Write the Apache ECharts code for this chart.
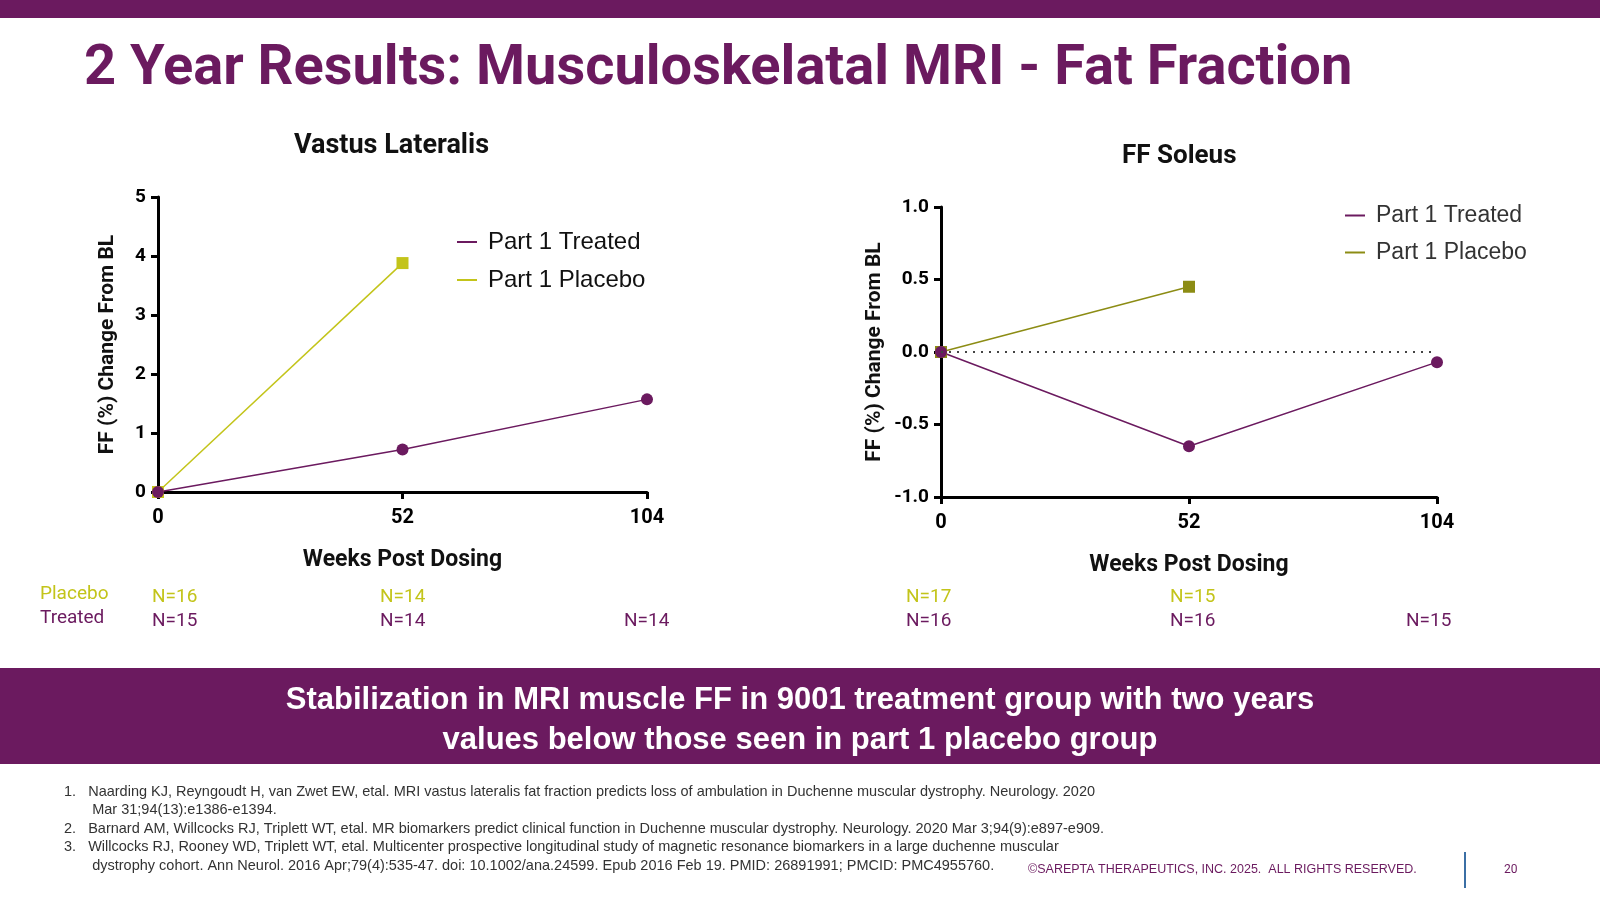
<!DOCTYPE html>
<html><head><meta charset="utf-8">
<script src="https://cdn.jsdelivr.net/npm/echarts@6/dist/echarts.min.js"></script>
<style>html,body{margin:0;padding:0;background:#fff}#c{width:1600px;height:900px}</style>
</head><body><div id="c"></div>
<script>
var weeks = [0, 52, 104];
var vlTreated = [[0, 0], [52, 0.72], [104, 1.57]];
var vlPlacebo = [[0, 0], [52, 3.88]];
var solTreated = [[0, 0], [52, -0.65], [104, -0.07]];
var solPlacebo = [[0, 0], [52, 0.45]];
var nPlaceboVL = ['N=16', 'N=14', ''];
var nTreatedVL = ['N=15', 'N=14', 'N=14'];
var nPlaceboSol = ['N=17', 'N=15', ''];
var nTreatedSol = ['N=16', 'N=16', 'N=15'];
var footnotes = [
  '1.   Naarding KJ, Reyngoudt H, van Zwet EW, etal. MRI vastus lateralis fat fraction predicts loss of ambulation in Duchenne muscular dystrophy. Neurology. 2020',
  '       Mar 31;94(13):e1386-e1394.',
  '2.   Barnard AM, Willcocks RJ, Triplett WT, etal. MR biomarkers predict clinical function in Duchenne muscular dystrophy. Neurology. 2020 Mar 3;94(9):e897-e909.',
  '3.   Willcocks RJ, Rooney WD, Triplett WT, etal. Multicenter prospective longitudinal study of magnetic resonance biomarkers in a large duchenne muscular',
  '       dystrophy cohort. Ann Neurol. 2016 Apr;79(4):535-47. doi: 10.1002/ana.24599. Epub 2016 Feb 19. PMID: 26891991; PMCID: PMC4955760.'
];

var purple = '#6b1a5f', lime = '#c3c41a', olive = '#8c8c14';
var chart = echarts.init(document.getElementById('c'));

function xAx(idx) {
  return {gridIndex: idx, type: 'value', min: 0, max: 104, interval: 52,
    name: 'Weeks Post Dosing', nameLocation: 'middle', nameGap: 57,
    nameTextStyle: {fontSize: 23, fontWeight: 'bold', color: '#111'},
    axisLine: {onZero: false, lineStyle: {color: '#000', width: 3}},
    axisTick: {show: true, length: 7, lineStyle: {width: 3, color: '#000'}},
    axisLabel: {fontSize: 20, fontWeight: 'bold', color: '#000', margin: 16},
    splitLine: {show: false}};
}
function yAx(idx, min, max, interval, gap, fmt) {
  return {gridIndex: idx, type: 'value', min: min, max: max, interval: interval,
    name: 'FF (%) Change From BL', nameLocation: 'middle', nameGap: gap,
    nameTextStyle: {fontSize: 21, fontWeight: 'bold', color: '#111'},
    axisLine: {show: true, onZero: false, lineStyle: {color: '#000', width: 3}},
    axisTick: {show: true, length: 7, lineStyle: {width: 3, color: '#000'}},
    axisLabel: {fontSize: 19, fontWeight: 'bold', color: '#000', margin: 12, formatter: fmt},
    splitLine: {show: false}};
}
function ser(name, idx, data, color, sym) {
  return {name: name, type: 'line', xAxisIndex: idx, yAxisIndex: idx, data: data,
    symbol: sym, symbolSize: 12, lineStyle: {color: color, width: 1.5},
    itemStyle: {color: color}};
}

var g = [];
g.push({type: 'rect', shape: {x: 0, y: 0, width: 1600, height: 18}, style: {fill: purple}});
g.push({type: 'text', left: 84, top: 42, style: {text: '2 Year Results: Musculoskelatal MRI - Fat Fraction',
  font: 'bold 56px "Liberation Sans Narrow", "Roboto", sans-serif', fill: purple}});
g.push({type: 'text', left: 294, top: 133, style: {text: 'Vastus Lateralis', font: 'bold 27px Roboto, sans-serif', fill: '#111'}});
g.push({type: 'text', left: 1122, top: 143, style: {text: 'FF Soleus', font: 'bold 26px Roboto, sans-serif', fill: '#111'}});
g.push({type: 'text', left: 40, top: 585, style: {text: 'Placebo', font: '19px Roboto, sans-serif', fill: lime}});
g.push({type: 'text', left: 40, top: 609, style: {text: 'Treated', font: '19px Roboto, sans-serif', fill: purple}});
var xsL = [152, 380, 624], xsR = [906, 1170, 1406];
for (var i = 0; i < 3; i++) {
  g.push({type: 'text', left: xsL[i], top: 588, style: {text: nPlaceboVL[i], font: '19px Roboto, sans-serif', fill: lime}});
  g.push({type: 'text', left: xsL[i], top: 612, style: {text: nTreatedVL[i], font: '19px Roboto, sans-serif', fill: purple}});
  g.push({type: 'text', left: xsR[i], top: 588, style: {text: nPlaceboSol[i], font: '19px Roboto, sans-serif', fill: lime}});
  g.push({type: 'text', left: xsR[i], top: 612, style: {text: nTreatedSol[i], font: '19px Roboto, sans-serif', fill: purple}});
}
g.push({type: 'rect', shape: {x: 0, y: 668, width: 1600, height: 96}, style: {fill: purple}});
g.push({type: 'text', x: 800, y: 680, style: {text: 'Stabilization in MRI muscle FF in 9001 treatment group with two years\nvalues below those seen in part 1 placebo group',
  font: 'bold 31px "Liberation Sans", Arial, sans-serif', fill: '#fff', align: 'center', lineHeight: 40}});
for (var j = 0; j < footnotes.length; j++) {
  g.push({type: 'text', left: 64, top: 784 + j * 18.5, style: {text: footnotes[j], font: '14.5px "Liberation Sans", Arial, sans-serif', fill: '#333'}});
}
g.push({type: 'text', left: 1028, top: 863, style: {text: '©SAREPTA THERAPEUTICS, INC. 2025.  ALL RIGHTS RESERVED.', font: '12.5px "Liberation Sans", Arial, sans-serif', fill: purple}});
g.push({type: 'rect', shape: {x: 1464, y: 852, width: 2, height: 36}, style: {fill: '#3b6fa5'}});
g.push({type: 'text', left: 1504, top: 864, style: {text: '20', font: '12px Roboto, sans-serif', fill: purple}});

chart.setOption({
  animation: false,
  textStyle: {fontFamily: 'Roboto, sans-serif'},
  graphic: g,
  legend: [
    {data: ['Part 1 Treated', 'Part 1 Placebo'], orient: 'vertical', left: 452, top: 225, itemGap: 14,
      icon: 'path://M0,0h10v1h-10z', itemWidth: 32, itemHeight: 2,
      textStyle: {fontSize: 24, color: '#111', fontFamily: '"Liberation Sans", Arial, sans-serif'}},
    {data: ['S Treated', 'S Placebo'], orient: 'vertical', left: 1340, top: 199, itemGap: 14,
      icon: 'path://M0,0h10v1h-10z', itemWidth: 32, itemHeight: 2,
      formatter: function (n) { return n.replace('S ', 'Part 1 '); },
      textStyle: {fontSize: 23, color: '#333', fontFamily: '"Liberation Sans", Arial, sans-serif'}}
  ],
  grid: [
    {left: 158, right: 953, top: 197, bottom: 408},
    {left: 941, right: 163, top: 207, bottom: 403}
  ],
  xAxis: [xAx(0), xAx(1)],
  yAxis: [yAx(0, 0, 5, 1, 40), yAx(1, -1, 1, 0.5, 56, function (v) { return v.toFixed(1); })],
  series: [
    ser('Part 1 Placebo', 0, vlPlacebo, lime, 'rect'),
    ser('Part 1 Treated', 0, vlTreated, purple, 'circle'),
    Object.assign(ser('S Placebo', 1, solPlacebo, olive, 'rect'), {
      markLine: {silent: true, symbol: 'none', label: {show: false},
        lineStyle: {type: [2, 6], color: '#444', width: 2}, data: [{yAxis: 0}]}}),
    ser('S Treated', 1, solTreated, purple, 'circle')
  ]
});
</script></body></html>
